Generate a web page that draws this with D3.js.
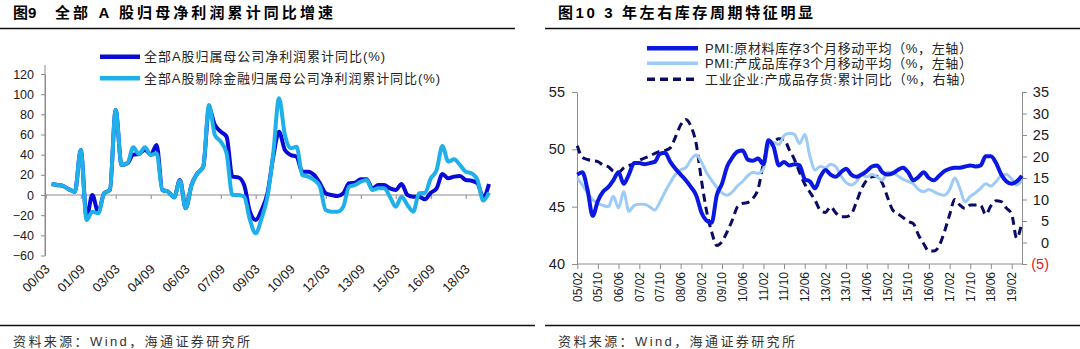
<!DOCTYPE html>
<html>
<head>
<meta charset="utf-8">
<script src="https://cdn.jsdelivr.net/npm/d3@7"></script>
<style>
  body { margin: 0; background: #fff; }
  text { font-family: "Liberation Sans", "Noto Sans CJK SC", sans-serif; }
</style>
</head>
<body>
<svg id="chart" width="1080" height="349"></svg>
<script>
// ---- left chart: quarterly cumulative yoy, 2000/06 .. 2019/03 ----
const profitStart = "00/06";
const allANetProfit = [10.9, 9.9, 8.9, 5.6, 3.3, 44.6, -22, 0, -17, 1.7,
  5.0, 84.3, 29.8, 31.4, 40, 40.7, 45, 40, 49.6, 5.0,
  3.3, -2.3, 15, -13.2, 10, 21.5, 28.1, 86, 69.4, 62.8,
  57.9, 18.2, 17.5, 9.9, -16.5, -24.8, -14.9, 1.7, 38, 62.8,
  44.6, 39.7, 38, 23.1, 23.1, 19.8, 11.6, 1.7, 0, -1.0,
  1.7, 11.6, 12.2, 15.5, 15.5, 6.6, 9.9, 9.9, 6.6, 5.0,
  10.9, 0, -1.7, -1.7, -4.3, 2.3, 6.6, 20.8, 16.5, 18.2,
  18.8, 14.9, 14.2, 11.6, -2.3, 10.9];
const exFinNetProfit = [10.9, 9.9, 8.9, 5.6, 3.3, 44.6, -24.8, -16.5, -18.2, 1.7,
  5.0, 84.3, 29.8, 31.4, 47.3, 40.7, 47.3, 39.7, 41.3, 5.0,
  3.3, -2.3, 14.2, -13.2, 9.9, 21.5, 28.1, 89.3, 59.5, 52.9,
  41.3, 0, 0, -1.7, -24.8, -38.0, -23.1, -1.7, 41.3, 95.9,
  59.5, 46.3, 47.9, 19.8, 18.2, 14.9, 8.3, -14.9, -16.5, -16.5,
  -11.6, 8.3, 9.9, 13.2, 14.9, 5.0, 6.6, 6.6, -1.7, -11.6,
  -1.7, -9.9, -16.5, 1.7, 2.3, 16.5, 24.8, 48.6, 33.1, 35.4,
  29.8, 23.1, 21.5, 14.9, -5.6, 2.3];
const leftTickLabels = ["00/03", "01/09", "03/03", "04/09", "06/03", "07/09", "09/03",
  "10/09", "12/03", "13/09", "15/03", "16/09", "18/03"];
const leftYTicks = [-60, -40, -20, 0, 20, 40, 60, 80, 100, 120];
const leftNames = ["全部A股归属母公司净利润累计同比(%)", "全部A股剔除金融归属母公司净利润累计同比(%)"];

// ---- right chart: every second month, 2005/02 .. 2019/06 ----
const invStart = "05/02";
const rawMaterialPMI = [47.8, 48.0, 46.5, 44.2, 45.5, 46.3, 46.7, 47.3, 48.0, 47.0,
  47.8, 48.8, 48.8, 48.7, 48.8, 48.9, 49.6, 49.7, 48.9, 48.3,
  47.8, 47.3, 46.7, 46.0, 44.5, 43.8, 43.6, 46.0, 47.0, 48.5,
  49.3, 49.8, 49.9, 49.1, 49.0, 49.2, 48.7, 50.8, 50.2, 48.6,
  48.9, 48.6, 48.7, 48.6, 47.4, 47.2, 46.6, 47.6, 48.2, 47.8,
  47.6, 48.0, 48.3, 47.8, 47.6, 47.8, 48.1, 48.5, 48.6, 48.0,
  47.8, 47.9, 48.2, 48.4, 48.0, 47.3, 47.6, 48.0, 47.5, 47.3,
  47.7, 48.1, 48.3, 48.4, 48.4, 48.5, 48.6, 48.5, 48.6, 49.4,
  49.4, 48.8, 47.8, 47.2, 47.0, 47.2, 47.7];
const finishedGoodsPMI = [47.5, 46.9, 46.2, 45.6, 45.3, 45.1, 45.0, 45.9, 44.9, 46.3,
  44.6, 45.1, 45.2, 45.2, 45.0, 44.7, 45.4, 46.3, 47.1, 47.8,
  48.2, 48.4, 49.1, 49.5, 48.9, 48.0, 47.3, 46.7, 46.2, 46.0,
  46.3, 46.8, 47.2, 47.7, 48.0, 47.9, 48.3, 50.3, 50.6, 50.4,
  51.2, 51.4, 51.3, 50.5, 51.3, 49.4, 48.2, 48.5, 48.4, 48.7,
  48.5, 47.7, 47.1, 46.9, 47.2, 47.8, 47.6, 47.8, 47.6, 47.3,
  48.0, 48.0, 47.7, 47.4, 47.2, 47.0, 46.5, 46.3, 46.5, 46.3,
  46.1, 46.0, 46.5, 47.5, 46.6, 45.4, 45.9, 46.2, 46.6, 47.0,
  46.8, 47.2, 47.7, 47.8, 47.4, 46.9, 47.3];
const inventoryYoY = [22.5, 19.8, 19.3, 19.0, 18.8, 18.0, 17.6, 16.6, 16.3, 17.3,
  17.9, 18.3, 19.1, 19.6, 20.1, 20.7, 21.2, 21.4, 22.0, 24.5,
  27.3, 28.6, 27.0, 23.0, 14.5, 7.5, 2.5, -0.7, 0.2, 2.5,
  5.3, 8.3, 9.1, 9.3, 10.3, 12.5, 18.5, 22.5, 23.4, 24.1,
  24.0, 21.6, 19.3, 16.3, 13.6, 11.7, 9.8, 7.5, 7.0, 8.3,
  6.9, 6.0, 6.0, 6.6, 9.5, 12.5, 14.5, 15.3, 15.4, 13.8,
  10.5, 7.6, 6.7, 5.8, 4.9, 4.4, 1.7, -0.3, -2.0, -2.0,
  -0.7, 2.5, 6.5, 10.0, 8.7, 7.9, 8.7, 8.7, 8.6, 6.5,
  8.5, 9.7, 9.5, 8.0, 6.6, 1.0, 4.8];
const rightTickLabels = ["05/02", "05/10", "06/06", "07/02", "07/10", "08/06", "09/02", "09/10",
  "10/06", "11/02", "11/10", "12/06", "13/02", "13/10", "14/06", "15/02", "15/10", "16/06",
  "17/02", "17/10", "18/06", "19/02"];
const rightLeftTicks = [40, 45, 50, 55];
const rightRightTicks = [-5, 0, 5, 10, 15, 20, 25, 30, 35];
const rightNames = ["PMI:原材料库存3个月移动平均（%，左轴）", "PMI:产成品库存3个月移动平均（%，左轴）",
  "工业企业:产成品存货:累计同比（%，右轴）"];

const parseYM = d3.timeParse("%y/%m");
const svg = d3.select("#chart");

// ---------- frame: titles, rules, sources ----------
svg.append("text").attr("x", 13).attr("y", 18).style("font-size", "15px").style("font-weight", "bold").text("图9");
svg.append("text").attr("x", 55).attr("y", 18).style("font-size", "15px").style("font-weight", "bold")
  .attr("textLength", 278).attr("lengthAdjust", "spacing").text("全部 A 股归母净利润累计同比增速");
svg.append("text").attr("x", 558).attr("y", 18).style("font-size", "15px").style("font-weight", "bold")
  .attr("textLength", 255).attr("lengthAdjust", "spacing").text("图10 3 年左右库存周期特征明显");

[[0, 515, 28.5], [545, 1080, 28.5], [0, 535, 325.5], [545, 1080, 325.5]].forEach((r) => {
  svg.append("line").attr("x1", r[0]).attr("x2", r[1]).attr("y1", r[2]).attr("y2", r[2])
    .attr("stroke", "#111").attr("stroke-width", 1.5);
});
[13, 558].forEach((x) => {
  svg.append("text").attr("x", x).attr("y", 346).style("font-size", "13px").attr("fill", "#333")
    .attr("textLength", 237).attr("lengthAdjust", "spacing").text("资料来源：Wind，海通证券研究所");
});

function styleAxis(g) {
  g.select(".domain").attr("stroke", "#8c8c8c");
  g.selectAll(".tick line").attr("stroke", "#8c8c8c");
  g.selectAll(".tick text").attr("fill", "#1a1a1a").style("font-family", "Liberation Sans, sans-serif");
}

// ---------- left chart ----------
const qDates = allANetProfit.map((d, i) => d3.timeMonth.offset(parseYM(profitStart), 3 * i));
const xL = d3.scaleTime().domain([parseYM("00/03"), parseYM("18/03")]).range([45.7, 465.7]);
const yL = d3.scaleLinear().domain([-60, 120]).range([255.5, 74]);
const leftColors = ["#0a0ad6", "#1fb0ea"];

svg.append("line").attr("x1", 45).attr("x2", 45).attr("y1", 65).attr("y2", yL(-60))
  .attr("stroke", "#8c8c8c");
const gyL = svg.append("g").attr("transform", "translate(45,0)")
  .call(d3.axisLeft(yL).tickValues(leftYTicks).tickSize(4).tickPadding(7).tickSizeOuter(0));
styleAxis(gyL);
gyL.selectAll(".tick text").style("font-size", "12.5px");

const gxL = svg.append("g").attr("transform", `translate(0,${yL(0)})`)
  .call(d3.axisBottom(xL).tickValues(leftTickLabels.map(parseYM)).tickFormat("").tickSize(4).tickSizeOuter(0));
styleAxis(gxL);
gxL.select(".domain").attr("d", `M45,0H490`);

svg.append("g").selectAll("text").data(leftTickLabels).join("text")
  .attr("transform", (d) => `translate(${xL(parseYM(d)) + 5},270) rotate(-45)`)
  .attr("text-anchor", "end").style("font-size", "13px").attr("fill", "#1a1a1a").text((d) => d);

const lineL = d3.line().x((d) => xL(d[0])).y((d) => yL(d[1])).curve(d3.curveMonotoneX);
[allANetProfit, exFinNetProfit].forEach((s, k) => {
  svg.append("path").datum(s.map((v, i) => [qDates[i], v])).attr("d", lineL)
    .attr("fill", "none").attr("stroke", leftColors[k]).attr("stroke-width", 4)
    .attr("stroke-linejoin", "round");
});

const legL = svg.append("g").selectAll("g").data(leftNames).join("g")
  .attr("transform", (d, i) => `translate(100,${56.7 + i * 21.6})`);
legL.append("line").attr("x1", 0).attr("x2", 40)
  .attr("stroke", (d, i) => leftColors[i]).attr("stroke-width", 4.5);
legL.append("text").attr("x", 44).attr("y", 4.5).style("font-size", "13px").attr("fill", "#222")
  .attr("textLength", (d, i) => (i ? 296 : 241)).attr("lengthAdjust", "spacing").text((d) => d);

// ---------- right chart ----------
const mDates = rawMaterialPMI.map((d, i) => d3.timeMonth.offset(parseYM(invStart), 2 * i));
const xR = d3.scaleTime().domain([parseYM("05/02"), parseYM("19/02")]).range([577.3, 1011.7]);
const yRL = d3.scaleLinear().domain([40, 55]).range([264, 92]);
const yRR = d3.scaleLinear().domain([-5, 35]).range([264, 92]);

const gyRL = svg.append("g").attr("transform", "translate(577,0)")
  .call(d3.axisLeft(yRL).tickValues(rightLeftTicks).tickSize(5).tickPadding(7).tickSizeOuter(0));
styleAxis(gyRL);
gyRL.selectAll(".tick text").style("font-size", "14.5px");

const gyRR = svg.append("g").attr("transform", "translate(1022,0)")
  .call(d3.axisRight(yRR).tickValues(rightRightTicks).tickSize(5).tickSizeOuter(0)
    .tickFormat((d) => (d < 0 ? `(${-d})` : d)));
styleAxis(gyRR);
gyRR.selectAll(".tick text").style("font-size", "14.5px").attr("text-anchor", "end").attr("x", 27)
  .attr("fill", (d) => (d < 0 ? "#e0202a" : "#1a1a1a"));

const gxR = svg.append("g").attr("transform", "translate(0,264)")
  .call(d3.axisBottom(xR).tickValues(rightTickLabels.map(parseYM)).tickFormat("").tickSize(5).tickSizeOuter(0));
styleAxis(gxR);
gxR.select(".domain").attr("d", "M577,0H1022");

svg.append("g").selectAll("text").data(rightTickLabels).join("text")
  .attr("transform", (d) => `translate(${xR(parseYM(d))},272) rotate(-90)`)
  .attr("dy", "0.36em").attr("text-anchor", "end").style("font-size", "12px").attr("fill", "#1a1a1a")
  .text((d) => d);

const rightStyles = [
  { color: "#0a18e2", width: 4, dash: null },
  { color: "#9ccbf6", width: 3, dash: null },
  { color: "#0b0b66", width: 3, dash: "8,5" },
];
const lineRL = d3.line().x((d) => xR(d[0])).y((d) => yRL(d[1])).curve(d3.curveMonotoneX);
const lineRR = d3.line().x((d) => xR(d[0])).y((d) => yRR(d[1])).curve(d3.curveMonotoneX);

[[inventoryYoY, lineRR, 2], [finishedGoodsPMI, lineRL, 1], [rawMaterialPMI, lineRL, 0]].forEach(([s, ln, k]) => {
  svg.append("path").datum(s.map((v, i) => [mDates[i], v])).attr("d", ln)
    .attr("fill", "none").attr("stroke", rightStyles[k].color).attr("stroke-width", rightStyles[k].width)
    .attr("stroke-dasharray", rightStyles[k].dash).attr("stroke-linejoin", "round");
});

const legR = svg.append("g").selectAll("g").data(rightNames).join("g")
  .attr("transform", (d, i) => `translate(647,${[48.3, 63.3, 79.3][i]})`);
legR.append("line").attr("x1", 0).attr("x2", 51)
  .attr("stroke", (d, i) => rightStyles[i].color).attr("stroke-width", (d, i) => rightStyles[i].width + 0.5)
  .attr("stroke-dasharray", (d, i) => rightStyles[i].dash);
legR.append("text").attr("x", 58).attr("y", 4.5).style("font-size", "13px").attr("fill", "#222")
  .attr("textLength", (d, i) => (i === 2 ? 268 : 267)).attr("lengthAdjust", "spacing").text((d) => d);
</script>
</body>
</html>
